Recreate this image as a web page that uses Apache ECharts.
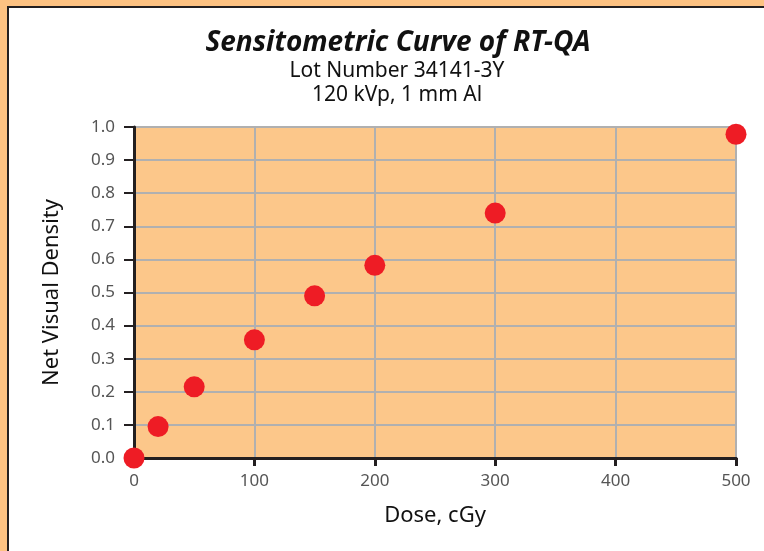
<!DOCTYPE html>
<html>
<head>
<meta charset="utf-8">
<script src="https://cdn.jsdelivr.net/npm/echarts@6/dist/echarts.min.js"></script>
<style>
html,body{margin:0;padding:0;background:#fdc282;}
#main{width:764px;height:551px;}
</style>
</head>
<body>
<div id="main"></div>
<script>
// dose (cGy) vs net visual density
var doses = [0, 20, 50, 100, 150, 200, 300, 500];
var density = [0.0, 0.095, 0.215, 0.357, 0.49, 0.582, 0.74, 0.978];

var titleText = 'Sensitometric Curve of RT-QA';
var subLines = ['Lot Number 34141-3Y', '120 kVp, 1 mm Al'];
var xName = 'Dose, cGy';
var yName = 'Net Visual Density';

var points = doses.map(function (d, i) { return [d, density[i]]; });

var myChart = echarts.init(document.getElementById('main'));
var font = '"Noto Sans", "Open Sans", sans-serif';

var option = {
    backgroundColor: '#fdc282',
    animation: false,
    textStyle: { fontFamily: font },
    title: [
        {
            text: titleText,
            left: 393, top: 24, textAlign: 'center',
            textStyle: { fontSize: 28, fontWeight: 'bold', fontStyle: 'italic', color: '#111', fontFamily: font }
        },
        {
            text: subLines.join('\n'),
            left: 392, top: 54, textAlign: 'center',
            textStyle: { fontSize: 21, fontWeight: 'normal', color: '#111', lineHeight: 24, fontFamily: font }
        }
    ],
    graphic: [
        {
            type: 'rect', z: -10, silent: true,
            shape: { x: 8, y: 7, width: 800, height: 600 },
            style: { fill: '#fff', stroke: '#231f20', lineWidth: 2 }
        }
    ],
    grid: {
        left: 134, right: 28, top: 127, bottom: 93,
        show: true, backgroundColor: '#fcc78a', borderWidth: 0
    },
    xAxis: [
        {
            type: 'value', min: 0, max: 500, interval: 100,
            name: xName, nameLocation: 'middle', nameGap: 47,
            nameTextStyle: { fontSize: 22, color: '#111' },
            axisLine: { show: true, onZero: false, lineStyle: { color: '#231f20', width: 3 } },
            axisTick: { show: true, length: 8, lineStyle: { color: '#231f20', width: 3 } },
            axisLabel: { fontSize: 17, color: '#555', margin: 15 },
            splitLine: { show: true, lineStyle: { color: '#b0b0b0', width: 2 } }
        },
        {
            type: 'value', min: 0, max: 500, position: 'top',
            axisLine: { show: true, lineStyle: { color: '#231f20', width: 3 } },
            axisTick: { show: false }, axisLabel: { show: false }, splitLine: { show: false }
        }
    ],
    yAxis: {
        type: 'value', min: 0, max: 1, interval: 0.1,
        name: yName, nameLocation: 'middle', nameGap: 71, nameRotate: 90,
        nameTextStyle: { fontSize: 22, color: '#111' },
        axisLine: { show: true, onZero: false, lineStyle: { color: '#231f20', width: 3 } },
        axisTick: { show: true, length: 10, lineStyle: { color: '#231f20', width: 2 } },
        axisLabel: { fontSize: 17, color: '#555', margin: 19, formatter: function (v) { return v.toFixed(1); } },
        splitLine: { show: true, lineStyle: { color: '#b0b0b0', width: 2 } }
    },
    series: [
        {
            type: 'scatter',
            data: points,
            symbolSize: 21,
            clip: false,
            itemStyle: { color: '#ee1c25', opacity: 1 },
            z: 5
        }
    ]
};

myChart.setOption(option);
</script>
</body>
</html>
